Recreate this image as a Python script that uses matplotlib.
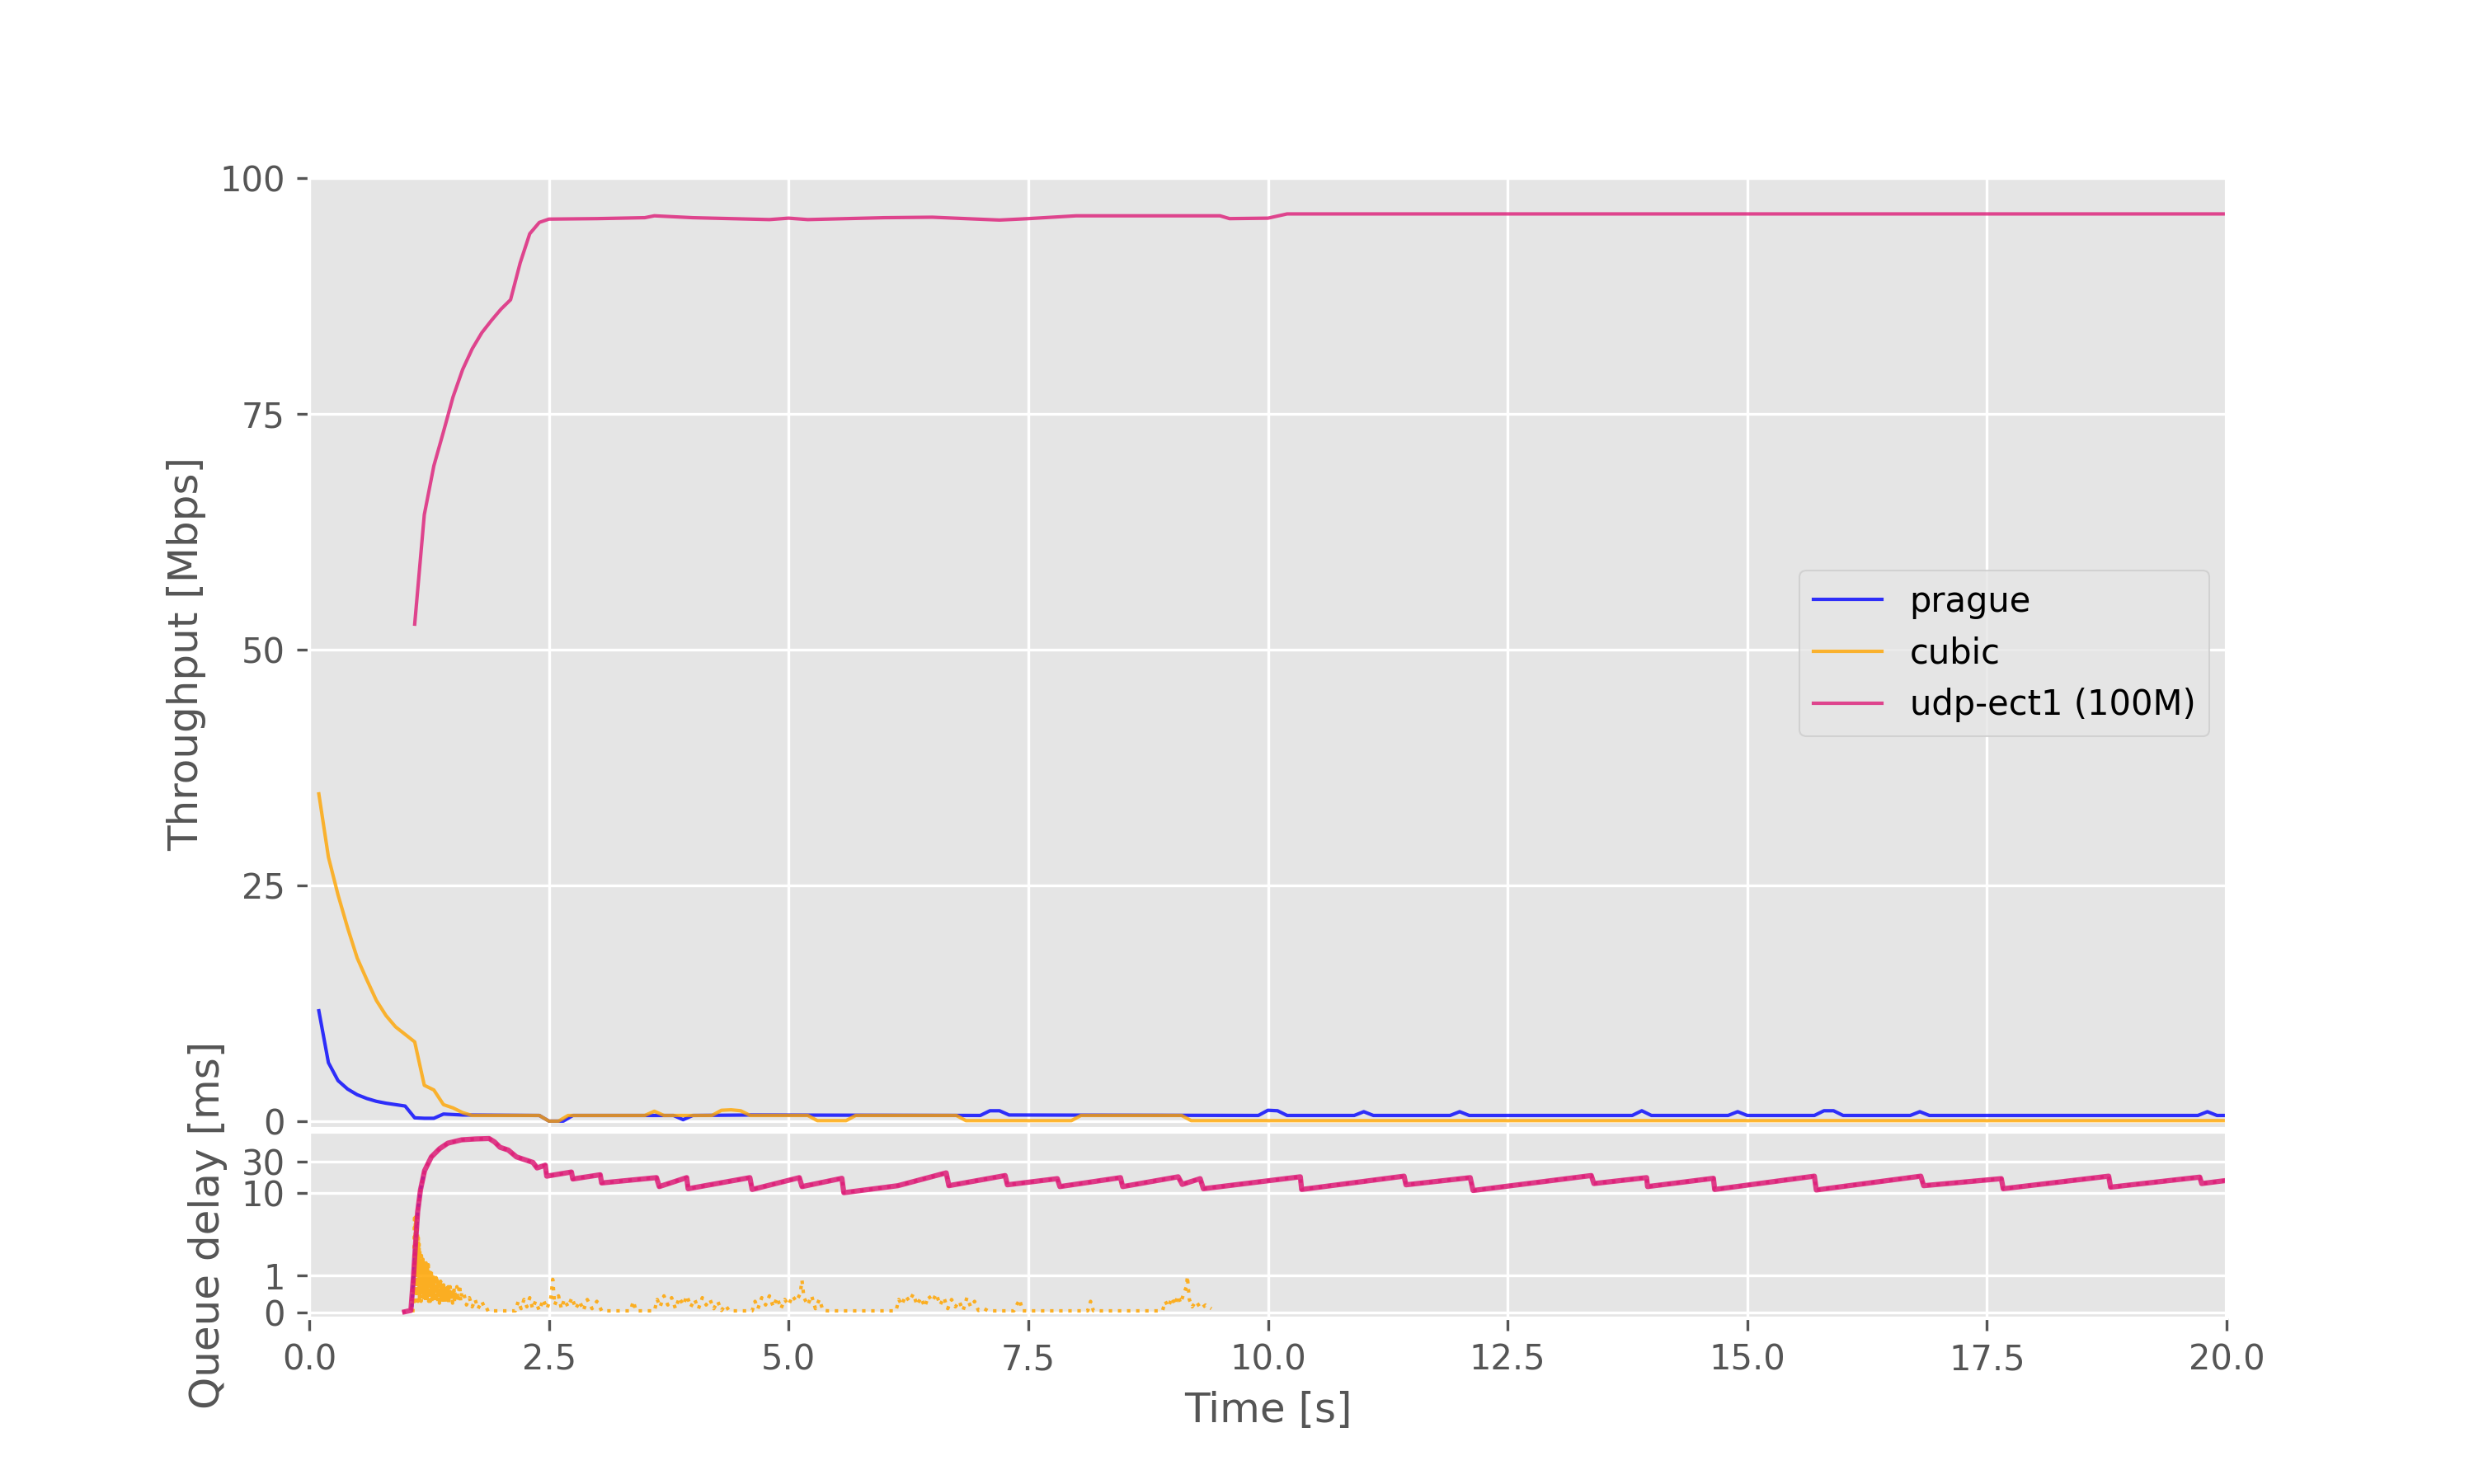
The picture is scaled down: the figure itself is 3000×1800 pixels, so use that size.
import numpy as np
import matplotlib
matplotlib.use("Agg")
import matplotlib.pyplot as plt
from matplotlib.ticker import NullLocator

# ---------------- data ----------------
series_names = ["prague", "cubic", "udp-ect1 (100M)"]
series_colors = ["blue", "orange", "#dd1c77"]

# Throughput [Mbps]
prague_t = [0.1, 0.2, 0.3, 0.4, 0.5, 0.6, 0.7, 0.8, 0.9, 1.0, 1.1, 1.2, 1.3, 1.4, 1.6,
            2.4, 2.5, 2.65, 2.75, 3.8, 3.9, 4.0, 4.6, 7.0, 7.1, 7.2, 7.3, 9.9, 10.0, 10.1,
            10.2, 10.9, 11.0, 11.1, 11.9, 12.0, 12.1, 13.8, 13.9, 14.0, 14.8, 14.9, 15.0,
            15.7, 15.8, 15.9, 16.0, 16.7, 16.8, 16.9, 19.7, 19.8, 19.9, 20.0]
prague_tput = [11.7, 6.2, 4.3, 3.4, 2.8, 2.4, 2.1, 1.9, 1.75, 1.6, 0.35, 0.3, 0.3, 0.75, 0.65,
               0.6, 0.0, 0.0, 0.6, 0.6, 0.15, 0.6, 0.65, 0.6, 1.1, 1.1, 0.65, 0.6, 1.15, 1.1,
               0.6, 0.6, 1.0, 0.6, 0.6, 1.0, 0.6, 0.6, 1.1, 0.6, 0.6, 1.0, 0.6,
               0.6, 1.1, 1.1, 0.6, 0.6, 1.0, 0.6, 0.6, 1.0, 0.6, 0.6]

cubic_t = [0.1, 0.2, 0.3, 0.4, 0.5, 0.6, 0.7, 0.8, 0.9, 1.0, 1.1, 1.2, 1.3, 1.4, 1.5, 1.6,
           1.7, 2.4, 2.5, 2.6, 2.7, 3.5, 3.6, 3.7, 4.2, 4.3, 4.4, 4.5, 4.6, 5.2, 5.3, 5.6,
           5.7, 6.75, 6.85, 7.95, 8.05, 9.1, 9.2, 20.0]
cubic_tput = [34.7, 28.0, 24.0, 20.5, 17.3, 15.0, 12.8, 11.2, 10.0, 9.2, 8.4, 3.8, 3.3, 1.75,
              1.4, 0.9, 0.6, 0.6, 0.0, 0.0, 0.6, 0.6, 1.05, 0.6, 0.6, 1.15, 1.2, 1.1, 0.6,
              0.6, 0.05, 0.05, 0.6, 0.6, 0.05, 0.05, 0.6, 0.6, 0.05, 0.05]

udp_t = [1.1, 1.2, 1.3, 1.4, 1.5, 1.6, 1.7, 1.8, 1.9, 2.0, 2.1, 2.2, 2.3, 2.4, 2.5, 3.0,
         3.5, 3.6, 4.0, 4.8, 5.0, 5.2, 6.0, 6.5, 7.2, 7.5, 8.0, 9.5, 9.6, 10.0, 10.2, 20.0]
udp_tput = [52.7, 64.3, 69.5, 73.1, 76.8, 79.7, 81.9, 83.6, 84.9, 86.1, 87.1, 91.0, 94.1,
            95.3, 95.65, 95.7, 95.8, 96.0, 95.8, 95.6, 95.75, 95.6, 95.8, 95.85, 95.55,
            95.7, 96.0, 96.0, 95.7, 95.75, 96.2, 96.2]

# Queue delay [ms]
udp_delay_t = [0.97, 1.06, 1.088, 1.108, 1.131, 1.160, 1.203, 1.274, 1.360, 1.446, 1.589,
               1.733, 1.876, 1.933, 1.990, 2.076, 2.161, 2.248, 2.333, 2.376, 2.462, 2.477,
               2.735, 2.749, 3.035, 3.050, 3.622, 3.651, 3.937, 3.952, 4.596, 4.620, 5.112,
               5.140, 5.556, 5.576, 6.140, 6.644, 6.672, 7.259, 7.282, 7.803, 7.830, 8.462,
               8.485, 9.064, 9.106, 9.293, 9.327, 10.338, 10.352, 11.420, 11.440, 12.110,
               12.140, 13.373, 13.400, 13.950, 13.960, 14.647, 14.660, 15.700, 15.720,
               16.810, 16.840, 17.650, 17.670, 18.770, 18.790, 19.720, 19.740, 20.0]
udp_delay = [0.0, 0.05, 1.0, 1.84, 5.2, 11.1, 21.8, 35.3, 47.0, 57.0, 64.0,
             66.0, 67.0, 59.5, 49.3, 44.8, 35.3, 32.0, 29.1, 24.0, 26.4, 18.0,
             20.8, 16.3, 18.9, 14.2, 17.1, 12.5, 17.1, 11.6, 17.1, 11.3, 17.1,
             12.5, 16.7, 10.1, 12.9, 20.2, 12.9, 18.4, 13.3, 16.5, 12.5, 17.1,
             12.5, 17.6, 13.5, 16.5, 11.6, 17.6, 11.3, 18.0, 13.3, 17.1,
             10.9, 18.4, 13.9, 17.1, 12.5, 16.7, 11.3, 18.0, 11.1,
             18.0, 12.9, 16.5, 11.6, 18.0, 12.25, 17.4, 13.9, 15.5]

# prague shares the L4S queue with udp-ect1 (visible only at the start)
prague_delay_t = [1.07, 1.088, 1.108, 1.131, 1.160, 1.203]
prague_delay = [0.15, 1.0, 1.84, 5.2, 11.1, 21.8]

# cubic (classic queue): dense burst at start, then sparse samples
cubic_burst_t = [1.080, 1.090, 1.095, 1.100, 1.103, 1.106, 1.109, 1.112, 1.115, 1.118,
                 1.121, 1.124, 1.127, 1.130, 1.134, 1.138, 1.142, 1.146, 1.150, 1.154,
                 1.158, 1.162, 1.166, 1.170, 1.174, 1.178, 1.182, 1.186, 1.190, 1.194,
                 1.198, 1.202, 1.206, 1.210, 1.214, 1.218, 1.222, 1.226, 1.230, 1.234,
                 1.238, 1.242, 1.246, 1.250, 1.254, 1.258, 1.262, 1.266, 1.270, 1.274,
                 1.278, 1.282, 1.286, 1.290, 1.294, 1.298, 1.302, 1.306, 1.310, 1.314,
                 1.318, 1.322, 1.326, 1.330, 1.334, 1.338, 1.342, 1.346, 1.350, 1.354,
                 1.358, 1.362, 1.366, 1.370, 1.374, 1.378, 1.382, 1.386, 1.390, 1.394,
                 1.398, 1.402, 1.406, 1.410, 1.414, 1.418, 1.422, 1.426, 1.430, 1.434,
                 1.438, 1.442, 1.446, 1.450, 1.455, 1.460, 1.465, 1.470, 1.475, 1.480,
                 1.485, 1.490, 1.495, 1.500, 1.505, 1.510, 1.515, 1.520, 1.530, 1.540,
                 1.550, 1.560, 1.570, 1.580, 1.590]
cubic_burst_ms = [0.0, 0.3, 2.0, 4.7, 0.2, 4.3, 0.6, 3.8, 1.0, 3.3,
                  0.4, 2.9, 0.8, 2.5, 0.3, 2.2, 0.5, 1.9, 0.3, 1.7,
                  0.6, 1.6, 0.3, 1.55, 0.45, 1.5, 0.3, 1.45, 0.5, 1.4,
                  0.35, 1.35, 0.6, 1.3, 0.3, 1.35, 0.45, 1.25, 0.3, 1.2,
                  0.55, 1.3, 0.3, 1.15, 0.4, 1.2, 0.3, 1.1, 0.5, 1.15,
                  0.3, 1.0, 0.4, 1.05, 0.3, 0.95, 0.45, 1.0, 0.3, 0.9,
                  0.4, 0.95, 0.3, 0.9, 0.5, 0.85, 0.3, 0.9, 0.4, 0.85,
                  0.25, 0.8, 0.45, 0.85, 0.3, 0.8, 0.4, 0.75, 0.25, 0.8,
                  0.35, 0.75, 0.3, 0.7, 0.45, 0.75, 0.25, 0.7, 0.35, 0.75,
                  0.3, 0.65, 0.4, 0.7, 0.25, 0.65, 0.35, 0.7, 0.3, 0.6,
                  0.4, 0.65, 0.25, 0.6, 0.35, 0.65, 0.3, 0.55, 0.4, 0.7,
                  0.3, 0.6, 0.75, 0.3, 0.55]
cubic_tail_t = [1.61, 1.64, 1.67, 1.70, 1.73, 1.76,
                1.80, 1.84, 1.88, 1.92, 2.15, 2.18, 2.21, 2.24, 2.27, 2.30, 2.33, 2.36,
                2.40, 2.44, 2.48, 2.52, 2.54, 2.56, 2.60, 2.63, 2.66, 2.70, 2.74, 2.78,
                2.82, 2.86, 2.90, 2.95, 3.00, 3.05, 3.35, 3.38, 3.41, 3.60, 3.63, 3.66,
                3.70, 3.74, 3.78, 3.82, 3.86, 3.90, 3.94, 3.98, 4.02, 4.06, 4.10, 4.14,
                4.18, 4.22, 4.26, 4.30, 4.34, 4.38, 4.62, 4.65, 4.68, 4.72, 4.76, 4.80,
                4.84, 4.88, 4.92, 4.96, 5.00, 5.04, 5.08, 5.12, 5.14, 5.16, 5.20, 5.24,
                5.28, 5.32, 5.36, 5.42, 6.12, 6.15, 6.18, 6.22, 6.26, 6.30, 6.34, 6.38,
                6.42, 6.46, 6.50, 6.54, 6.58, 6.62, 6.66, 6.70, 6.74, 6.78, 6.82, 6.86,
                6.90, 6.94, 6.98, 7.04, 7.08, 7.35, 7.38, 7.41, 7.44, 8.12, 8.15, 8.18,
                8.90, 8.93, 8.96, 9.00, 9.03, 9.06, 9.09, 9.12, 9.15, 9.16, 9.18, 9.21,
                9.25, 9.30, 9.35, 9.41]
cubic_tail_ms = [0.55, 0.2, 0.4, 0.15, 0.35, 0.1,
                 0.3, 0.05, 0.1, 0.04, 0.04, 0.3, 0.1, 0.35, 0.15, 0.4, 0.1, 0.3,
                 0.05, 0.35, 0.1, 0.4, 0.9, 0.2, 0.45, 0.1, 0.35, 0.15, 0.4, 0.1,
                 0.3, 0.05, 0.35, 0.1, 0.3, 0.04, 0.04, 0.3, 0.04, 0.04, 0.35, 0.15,
                 0.45, 0.2, 0.4, 0.1, 0.4, 0.2, 0.45, 0.15, 0.35, 0.1, 0.4, 0.2,
                 0.35, 0.1, 0.3, 0.05, 0.2, 0.04, 0.04, 0.3, 0.1, 0.4, 0.2, 0.45,
                 0.15, 0.4, 0.1, 0.35, 0.2, 0.45, 0.3, 0.5, 0.87, 0.4, 0.2, 0.45,
                 0.1, 0.35, 0.05, 0.04, 0.04, 0.35, 0.2, 0.45, 0.3, 0.5, 0.2, 0.4,
                 0.15, 0.45, 0.3, 0.5, 0.2, 0.4, 0.1, 0.35, 0.15, 0.3, 0.05, 0.4,
                 0.15, 0.3, 0.05, 0.1, 0.04, 0.04, 0.2, 0.35, 0.04, 0.04, 0.3, 0.04,
                 0.04, 0.3, 0.15, 0.4, 0.2, 0.45, 0.25, 0.5, 0.7, 0.98, 0.35, 0.15,
                 0.3, 0.1, 0.2, 0.1]
cubic_delay_t = cubic_burst_t + cubic_tail_t
cubic_delay = cubic_burst_ms + cubic_tail_ms

tput_yticks = [0, 25, 50, 75, 100]
delay_yticks = [0, 1, 10, 30]
delay_yticklabels = ["0", "1", "10", "30"]

# ---------------- plot ----------------
plt.style.use("ggplot")
fig = plt.figure(figsize=(10, 6), dpi=300)
ax1 = fig.add_axes([0.125, 1 - 1369 / 1800, 0.775, (1369 - 216) / 1800])
ax2 = fig.add_axes([0.125, 1 - 1599.3 / 1800, 0.775, (1599.3 - 1372.7) / 1800], sharex=ax1)

tput = [(prague_t, prague_tput), (cubic_t, cubic_tput), (udp_t, udp_tput)]
for (t, v), name, c in zip(tput, series_names, series_colors):
    ax1.plot(t, v, color=c, lw=1.0, alpha=0.8, label=name)

# delay traces: dotted, as in the reference
ax2.plot(prague_delay_t, prague_delay, color=series_colors[0], lw=1.0, alpha=0.8, linestyle=":")
ax2.plot(cubic_delay_t, cubic_delay, color=series_colors[1], lw=1.0, alpha=0.85, linestyle=":")
ax2.plot(udp_delay_t, udp_delay, color=series_colors[2], lw=1.5, alpha=0.85,
         solid_capstyle="butt")
ax2.plot(udp_delay_t, udp_delay, color=series_colors[2], lw=1.0, alpha=0.8, linestyle=":")

ax1.set_ylim(-0.8, 100)
ax1.set_yticks(tput_yticks)
ax1.set_ylabel("Throughput [Mbps]")
ax1.tick_params(axis="x", which="both", bottom=False, labelbottom=False)
ax1.legend(loc="center right")

ax2.set_yscale("symlog", linthresh=2, linscale=1)
ax2.set_ylim(-0.17, 85)
ax2.set_yticks(delay_yticks)
ax2.set_yticklabels(delay_yticklabels)
ax2.yaxis.set_minor_locator(NullLocator())
ax2.set_xlim(0, 20)
ax2.set_ylabel("Queue delay [ms]")
ax2.set_xlabel("Time [s]")

fig.savefig("out.png", dpi=300)
